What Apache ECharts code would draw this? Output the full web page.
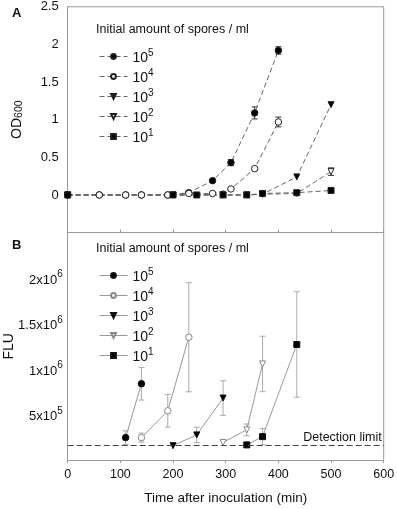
<!DOCTYPE html>
<html>
<head>
<meta charset="utf-8">
<script src="https://cdn.jsdelivr.net/npm/echarts@6/dist/echarts.min.js"></script>
<style>
  html, body { margin: 0; padding: 0; background: #fff; }
  #chart { width: 397px; height: 509px; }
</style>
</head>
<body>
<div id="chart"></div>
<script>
// legend labels (exponent of spores / ml)
var exponents = ['5', '4', '3', '2', '1'];

// panel A: OD600 over time, [minutes, OD]
var odE5 = [[0, 0], [60, 0], [110, 0], [140, 0], [190, 0], [230, 0.03], [275, 0.19], [310, 0.43], [355, 1.09], [400, 1.92]];
var odE4 = [[0, 0], [60, 0], [110, 0], [140, 0], [190, 0], [230, 0.02], [275, 0.02], [310, 0.08], [355, 0.35], [400, 0.97]];
var odE3 = [[0, 0], [200, 0], [295, 0], [340, 0], [370, 0.01], [435, 0.24], [500, 1.2]];
var odE2 = [[0, 0], [200, 0], [295, 0], [340, 0], [370, 0.01], [435, 0.02], [500, 0.31]];
var odE1 = [[0, 0], [200, 0], [245, 0], [295, 0], [340, 0], [370, 0.02], [435, 0.03], [500, 0.06]];
// error bars [minutes, mean, sd]
var odErr = [[310, 0.43, 0.04], [355, 1.09, 0.08], [400, 1.92, 0.05], [400, 0.97, 0.065], [500, 0.31, 0.05]];

// panel B: fluorescence over time, [minutes, FLU]
var fluE5 = [[110, 246000], [140, 839000]];
var fluE4 = [[140, 246000], [190, 541000], [230, 1350000]];
var fluE3 = [[200, 158000], [245, 276000], [295, 681000]];
var fluE2 = [[295, 193000], [340, 331000], [370, 1056000]];
var fluE1 = [[340, 166000], [370, 257000], [435, 1270000]];
var fluErr = [
    [110, 246000, 75000], [140, 839000, 180000],
    [140, 246000, 50000], [190, 541000, 180000], [230, 1350000, 600000],
    [245, 276000, 85000], [295, 681000, 190000],
    [340, 331000, 65000], [370, 1056000, 305000],
    [340, 166000, 20000], [370, 257000, 90000], [435, 1270000, 580000]
];
var detectionLimit = 158000;

var xTicks = [0, 100, 200, 300, 400, 500, 600];
var odTicks = [0, 0.5, 1, 1.5, 2, 2.5];
var fluTicks = [500000, 1000000, 1500000, 2000000];

var font = 'Liberation Sans, Arial, sans-serif';

function errBars(rows, xi, yi, color) {
    return {
        type: 'custom',
        xAxisIndex: xi,
        yAxisIndex: yi,
        silent: true,
        z: 1,
        data: rows.map(function (r) { return [r[0], r[1] - r[2], r[1] + r[2]]; }),
        encode: { x: 0, y: [1, 2] },
        renderItem: function (params, api) {
            var lo = api.coord([api.value(0), api.value(1)]);
            var hi = api.coord([api.value(0), api.value(2)]);
            var w = 3;
            var st = { stroke: color, lineWidth: 1 };
            return {
                type: 'group',
                children: [
                    { type: 'line', shape: { x1: lo[0], y1: lo[1], x2: hi[0], y2: hi[1] }, style: st },
                    { type: 'line', shape: { x1: lo[0] - w, y1: lo[1], x2: lo[0] + w, y2: lo[1] }, style: st },
                    { type: 'line', shape: { x1: hi[0] - w, y1: hi[1], x2: hi[0] + w, y2: hi[1] }, style: st }
                ]
            };
        }
    };
}

// symbol styles per concentration: 10^5 .. 10^1
var symbols = ['circle', 'circle', 'triangle', 'triangle', 'rect'];
var rotates = [0, 0, 180, 180, 0];
var filled = [true, false, true, false, true];

function lineSeries(name, data, idx, xi, yi, dashed) {
    var edge = dashed ? '#222' : (filled[idx] ? '#111' : '#888');
    return {
        name: name,
        type: 'line',
        xAxisIndex: xi,
        yAxisIndex: yi,
        data: data,
        symbol: symbols[idx],
        symbolRotate: rotates[idx],
        symbolSize: symbols[idx] === 'circle' ? 6.5 : 6,
        showAllSymbol: true,
        z: 3,
        lineStyle: {
            color: dashed ? '#666' : '#9a9a9a',
            width: 1,
            type: dashed ? [5, 3] : 'solid'
        },
        itemStyle: {
            color: filled[idx] ? '#000' : '#fff',
            borderColor: edge,
            borderWidth: 1
        }
    };
}

var namesA = exponents.map(function (e) { return 'a' + e; });
var namesB = exponents.map(function (e) { return 'b' + e; });
var odSets = [odE5, odE4, odE3, odE2, odE1];
var fluSets = [fluE5, fluE4, fluE3, fluE2, fluE1];

var series = [];
series.push(errBars(odErr, 0, 0, '#333'));
series.push(errBars(fluErr, 1, 1, '#aaa'));
odSets.forEach(function (d, i) { series.push(lineSeries(namesA[i], d, i, 0, 0, true)); });
fluSets.forEach(function (d, i) { series.push(lineSeries(namesB[i], d, i, 1, 1, false)); });
series.push({
    type: 'line',
    xAxisIndex: 1,
    yAxisIndex: 1,
    data: [],
    markLine: {
        silent: true,
        symbol: 'none',
        lineStyle: { color: '#444', type: [6, 3], width: 1.2 },
        label: {
            position: 'insideEndTop',
            formatter: 'Detection limit',
            color: '#111',
            fontFamily: font,
            fontSize: 12.5,
            distance: [2, 2]
        },
        data: [{ yAxis: detectionLimit }]
    }
});

var rich = {
    n: { fontSize: 14, fontFamily: font, color: '#111', padding: [4, 0, 0, 0] },
    sup: { fontSize: 10, fontFamily: font, color: '#111', padding: [0, 0, 7, 0] }
};

function legendFmt(name) {
    return '{n|10}{sup|' + name.slice(1) + '}';
}

function sciLabel(v) {
    var exp = Math.floor(Math.log10(v) + 1e-9);
    var mant = Math.round(v / Math.pow(10, exp) * 10) / 10;
    return '{t|' + mant + 'x10}{s|' + exp + '}';
}

var legendBase = {
    orient: 'vertical', left: 94,
    itemWidth: 28, itemHeight: 6, itemGap: 2.5,
    selectedMode: false,
    formatter: legendFmt,
    lineStyle: { width: 1 },
    textStyle: { rich: rich }
};

var chart = echarts.init(document.getElementById('chart'));
chart.setOption({
    animation: false,
    backgroundColor: '#fff',
    textStyle: { fontFamily: font },
    grid: [
        { left: 67.7, top: 6.8, width: 316, height: 225.8, outerBoundsMode: 'none', containLabel: false },
        { left: 67.7, top: 232.6, width: 316, height: 227.4, outerBoundsMode: 'none', containLabel: false }
    ],
    xAxis: [
        {
            gridIndex: 0, type: 'value', min: 0, max: 600, interval: 100,
            axisLine: { onZero: false, lineStyle: { color: '#999' } },
            axisTick: { inside: true, length: 3, lineStyle: { color: '#999' } },
            axisLabel: { show: false },
            splitLine: { show: false }
        },
        {
            gridIndex: 1, type: 'value', min: 0, max: 600, interval: 100,
            name: 'Time after inoculation (min)',
            nameLocation: 'middle',
            nameGap: 31,
            nameMoveOverlap: false,
            nameTextStyle: { fontSize: 13.5, color: '#111', fontFamily: font },
            axisLine: { onZero: false, lineStyle: { color: '#999' } },
            axisTick: { inside: false, length: 3, lineStyle: { color: '#999' } },
            axisLabel: {
                color: '#111', fontSize: 12.5, fontFamily: font, margin: 8,
                formatter: function (v) { return xTicks.indexOf(v) >= 0 ? String(v) : ''; }
            },
            splitLine: { show: false }
        }
    ],
    yAxis: [
        {
            gridIndex: 0, type: 'value', min: -0.5, max: 2.5, interval: 0.5,
            name: '{a|OD}{b|600}',
            nameLocation: 'middle',
            nameGap: 43,
            nameMoveOverlap: false,
            nameTextStyle: {
                rich: {
                    a: { fontSize: 14, fontFamily: font, color: '#111' },
                    b: { fontSize: 10.5, fontFamily: font, color: '#111', padding: [5, 0, 0, 0] }
                }
            },
            axisLine: { onZero: false, lineStyle: { color: '#999' } },
            axisTick: { show: false },
            axisLabel: {
                color: '#111', fontSize: 13, fontFamily: font, margin: 9,
                formatter: function (v) { return odTicks.indexOf(v) >= 0 ? String(v) : ''; }
            },
            splitLine: { show: false }
        },
        {
            gridIndex: 1, type: 'value', min: 0, max: 2500000, interval: 500000,
            name: 'FLU',
            nameLocation: 'middle',
            nameGap: 52,
            nameMoveOverlap: false,
            nameTextStyle: { fontSize: 14, color: '#111', fontFamily: font },
            axisLine: { onZero: false, lineStyle: { color: '#999' } },
            axisTick: { show: false },
            axisLabel: {
                margin: 5,
                formatter: function (v) { return fluTicks.indexOf(v) >= 0 ? sciLabel(v) : ''; },
                rich: {
                    t: { fontSize: 13, fontFamily: font, color: '#111', padding: [4, 0, 0, 0] },
                    s: { fontSize: 10, fontFamily: font, color: '#111', padding: [0, 0, 7, 0] }
                }
            },
            splitLine: { show: false }
        }
    ],
    legend: [
        Object.assign({}, legendBase, { data: namesA, top: 43 }),
        Object.assign({}, legendBase, { data: namesB, top: 262 })
    ],
    graphic: [
        { type: 'text', left: 12, top: 7, style: { text: 'A', fontSize: 13, fontWeight: 'bold', fontFamily: font, fill: '#111' } },
        { type: 'text', left: 12, top: 239, style: { text: 'B', fontSize: 13, fontWeight: 'bold', fontFamily: font, fill: '#111' } },
        { type: 'text', left: 96, top: 23, style: { text: 'Initial amount of spores / ml', fontSize: 12.5, fontFamily: font, fill: '#111' } },
        { type: 'text', left: 96, top: 242, style: { text: 'Initial amount of spores / ml', fontSize: 12.5, fontFamily: font, fill: '#111' } },
        { type: 'line', shape: { x1: 67.7, y1: 6.8, x2: 383.7, y2: 6.8 }, style: { stroke: '#999', lineWidth: 1 } },
        { type: 'line', shape: { x1: 383.7, y1: 6.8, x2: 383.7, y2: 460 }, style: { stroke: '#999', lineWidth: 1 } }
    ],
    series: series
});
</script>
</body>
</html>
